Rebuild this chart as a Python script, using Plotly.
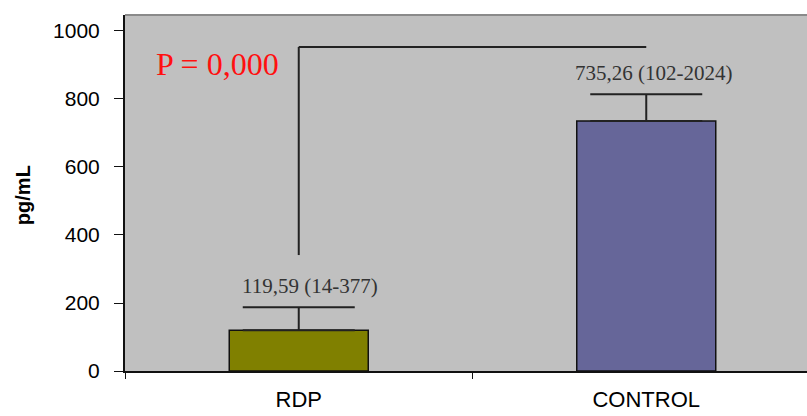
import plotly.graph_objects as go

# Group medians with observed ranges (pg/mL)
groups = ["RDP", "CONTROL"]
medians = [119.59, 735.26]
range_low = [14, 102]
range_high = [377, 2024]
err_upper = [68, 79]
bar_colors = ["#808000", "#666699"]
y_ticks = [0, 200, 400, 600, 800, 1000]
p_label = "P = 0,000"

# Significance bracket levels
bracket_top = 953
bracket_bottom = 341

fig = go.Figure()
fig.add_trace(go.Bar(
    x=groups,
    y=medians,
    width=0.4,
    marker=dict(color=bar_colors, line=dict(color="#111111", width=1.5)),
    error_y=dict(type="data", array=err_upper, arrayminus=[0, 0], symmetric=False,
                 color="#222222", thickness=2, width=56),
    showlegend=False,
))

# Value labels above each bar
label_y = [250, 876]
label_dx = [11, 7]
for g, m, lo, hi, ly, dx in zip(groups, medians, range_low, range_high, label_y, label_dx):
    txt = f"{m:.2f}".replace(".", ",") + f" ({lo}-{hi})"
    fig.add_annotation(x=g, y=ly, text=txt, showarrow=False, xshift=dx,
                       font=dict(family="Liberation Serif, Times New Roman, serif",
                                 size=21, color="#333333"))

# Bracket joining the two groups
fig.add_shape(type="line", xref="x", yref="y", x0=0, x1=0, y0=bracket_bottom, y1=bracket_top,
              line=dict(color="#222222", width=2))
fig.add_shape(type="line", xref="x", yref="y", x0=0, x1=1, y0=bracket_top, y1=bracket_top,
              line=dict(color="#222222", width=2))

fig.add_annotation(x=-0.235, y=903, text=p_label, showarrow=False,
                   font=dict(family="Liberation Serif, Times New Roman, serif", size=32, color="#ff1010"))

# Top frame of the plotting area
fig.add_shape(type="line", xref="paper", yref="paper", x0=0, x1=1, y0=1, y1=1,
              line=dict(color="#8a8a8a", width=2))

fig.add_annotation(xref="paper", yref="paper", x=(23 - 125) / 682, y=0.494, text="<b>pg/mL</b>",
                   textangle=-90, showarrow=False, xanchor="center", yanchor="middle",
                   font=dict(family="Liberation Sans, Arial, sans-serif", size=20, color="#000000"))

fig.update_layout(
    width=807, height=416,
    margin=dict(l=125, r=0, t=15, b=45),
    paper_bgcolor="white",
    plot_bgcolor="#c0c0c0",
    xaxis=dict(range=[-0.5, 1.4626], showline=True, linecolor="#111111", linewidth=2,
               ticks="outside", tickson="boundaries", ticklen=6, tickcolor="#111111",
               ticklabelstandoff=8, automargin=False,
               showgrid=False, tickfont=dict(family="Liberation Sans, Arial, sans-serif", size=22, color="#000000")),
    yaxis=dict(range=[0, 1047], tickvals=y_ticks, showline=True, linecolor="#111111", linewidth=2,
               ticks="outside", ticklen=9, tickcolor="#111111", showgrid=False, zeroline=False,
               ticklabelstandoff=10, automargin=False,
               tickfont=dict(family="Liberation Sans, Arial, sans-serif", size=21, color="#000000")),
)

fig.write_html("out.html")
